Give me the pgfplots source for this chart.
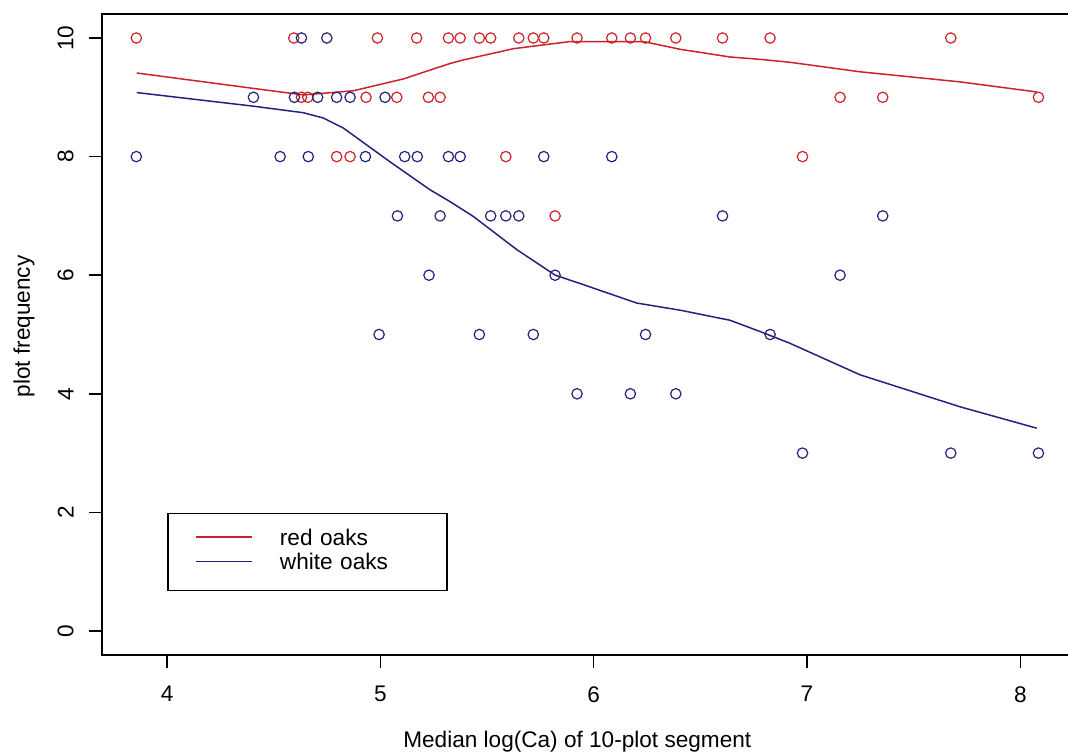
\documentclass[border=0pt]{standalone}
\usepackage{fontspec}
\setmainfont{Liberation Sans}
\usepackage{pgfplots}
\pgfplotsset{compat=1.18}
\definecolor{rred}{RGB}{205,35,40}
\definecolor{rblue}{RGB}{35,35,125}
\begin{document}
\begin{tikzpicture}
\begin{axis}[
  scale only axis, width=484pt, height=320.5pt,
  xmin=3.695, xmax=8.233, ymin=-0.405, ymax=10.405,
  xtick={4,5,6,7,8}, ytick={0,2,4,6,8,10},
  tick align=outside, tick pos=left,
  major tick length=6.5pt,
  axis line style={line width=0.8pt},
  every tick/.style={line width=0.8pt, black},
  font=\fontsize{11.3}{13}\selectfont,
  /pgf/number format/assume math mode=true,
  xticklabel style={anchor=north, inner sep=0pt},
  yticklabel style={rotate=90, anchor=south, inner sep=0pt},
  xticklabel shift=9pt,
  yticklabel shift=7.5pt,
  xlabel={Median log(Ca) of 10-plot segment},
  ylabel={plot frequency},
  xlabel style={at={([yshift=-46pt]axis description cs:0.491,0)}, anchor=base, inner sep=0pt},
  ylabel style={at={([xshift=-39pt]axis description cs:0,0.5125)}, anchor=center, inner sep=0pt},
  legend style={at={(axis description cs:0.0675,0.222)}, anchor=north west,
    draw=black, line width=0.7pt, inner xsep=13.5pt, inner ysep=8pt, row sep=1.7pt,
    font=\fontsize{11.3}{13}\selectfont,
    nodes={inner sep=0pt, text height=8pt, text depth=2.5pt, text width=70pt, align=left},
    /tikz/every odd column/.append style={column sep=13.5pt}},
  legend image code/.code={\draw[#1] (0pt,1.5pt) -- (28.2pt,1.5pt);},
  legend cell align=left,
]
% red oaks points
\addplot[only marks, mark=o, mark size=2.6pt, color=rred, mark options={line width=0.6pt}, forget plot] coordinates {
(3.856,10) (4.594,10) (4.986,10) (5.170,10) (5.319,10) (5.374,10) (5.464,10) (5.517,10)
(5.649,10) (5.717,10) (5.766,10) (5.922,10) (6.085,10) (6.172,10) (6.243,10) (6.385,10)
(6.604,10) (6.827,10) (7.674,10)
(4.630,9) (4.660,9) (4.933,9) (5.077,9) (5.225,9) (5.280,9) (7.155,9) (7.355,9) (8.085,9)
(4.795,8) (4.858,8) (5.588,8) (6.979,8)
(5.819,7)
};
% white oaks points
\addplot[only marks, mark=o, mark size=2.6pt, color=rblue, mark options={line width=0.6pt}, forget plot] coordinates {
(4.630,10) (4.749,10)
(4.405,9) (4.597,9) (4.706,9) (4.795,9) (4.858,9) (5.022,9)
(3.856,8) (4.530,8) (4.662,8) (4.930,8) (5.114,8) (5.173,8) (5.319,8) (5.374,8) (5.766,8) (6.085,8)
(5.080,7) (5.280,7) (5.517,7) (5.588,7) (5.649,7) (6.604,7) (7.355,7)
(5.228,6) (5.819,6) (7.155,6)
(4.994,5) (5.464,5) (5.717,5) (6.243,5) (6.827,5)
(5.922,4) (6.172,4) (6.385,4)
(6.979,3) (7.674,3) (8.085,3)
};
% smooth lines
\addplot[color=rred, line width=0.75pt, no marks] coordinates {
(3.858,9.41) (4.405,9.15) (4.639,9.04) (4.873,9.11) (5.108,9.31) (5.233,9.46) (5.327,9.57)
(5.389,9.63) (5.624,9.82) (5.889,9.94) (6.233,9.94) (6.405,9.81) (6.639,9.68) (6.780,9.64)
(6.921,9.59) (7.249,9.43) (7.718,9.26) (8.077,9.09)
};
\addlegendentry{red oaks}
\addplot[color=rblue, line width=0.75pt, no marks] coordinates {
(3.858,9.08) (4.405,8.85) (4.639,8.74) (4.733,8.65) (4.827,8.48) (5.046,7.91) (5.233,7.44)
(5.327,7.24) (5.436,6.99) (5.640,6.43) (5.820,6.00) (5.936,5.86) (6.202,5.53) (6.405,5.41)
(6.639,5.24) (6.780,5.05) (6.921,4.85) (7.249,4.32) (7.718,3.78) (8.077,3.42)
};
\addlegendentry{white oaks}
\coordinate (bl) at (rel axis cs:0,0);
\coordinate (tr) at (rel axis cs:1,1);
\end{axis}
\pgfresetboundingbox
\path[use as bounding box] ([xshift=-51pt,yshift=-49pt]bl) rectangle ([xshift=-1pt,yshift=7pt]tr);
\end{tikzpicture}
\end{document}
